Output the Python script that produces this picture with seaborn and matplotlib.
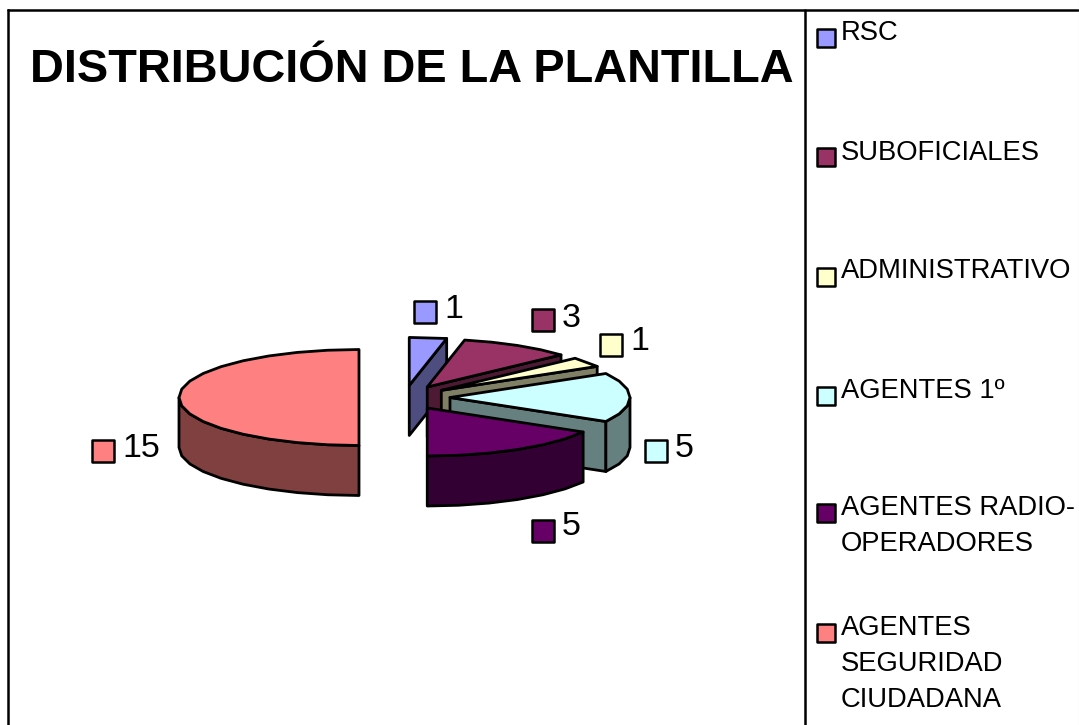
import numpy as np
import pandas as pd
import seaborn as sns
import matplotlib.pyplot as plt

categories = ['RSC', 'SUBOFICIALES', 'ADMINISTRATIVO', 'AGENTES 1º',
              'AGENTES RADIO-\nOPERADORES', 'AGENTES\nSEGURIDAD\nCIUDADANA']
values = [1, 3, 1, 5, 5, 15]
colors = ['#9999FF', '#993366', '#FFFFCC', '#CCFFFF', '#660066', '#FF8080']

# layout, in pixels of the 1079x725 picture
label_x = [425, 543, 611, 656, 543, 103]
label_y = [312, 320, 345, 451, 531, 451]
label_base = [318, 327, 350, 457, 535, 457]
legend_y = [38, 157, 277, 396, 513, 633]
legend_base = [40, 160, 278, 398, 551, 707]
cx, cy = 404.5, 397.5
rx, ry = 180, 48
explode = 45.5
depth = 50

sns.set_theme(style='white')
plt.rcParams['font.family'] = ['Liberation Sans', 'DejaVu Sans']

fig = plt.figure(figsize=(10.79, 7.25), dpi=100)
ax = fig.add_axes([0, 0, 1, 1])
ax.set_xlim(0, 1079)
ax.set_ylim(725, 0)
ax.axis('off')

palette = sns.color_palette(colors)
dark = [tuple(c * 0.5 for c in col) for col in palette]


def rim(x0, y0, a0, a1):
    # angles in degrees, clockwise from the top of the ellipse
    n = max(int(round((a1 - a0) / 10)), 1)
    t = np.radians(np.linspace(a0, a1, n + 1))
    return x0 + rx * np.sin(t), y0 - ry * np.cos(t)


def face(xs, ys, col, z):
    ax.fill(xs, ys, facecolor=col, edgecolor='black', linewidth=2,
            joinstyle='round', zorder=z)


ends = np.cumsum(values) / sum(values) * 360
starts = np.r_[0, ends[:-1]]
# the big slice does not touch the others, the radio slice has to cover the 1º one
for i in range(len(values)):
    a0, a1 = starts[i], ends[i]
    mid = np.radians((a0 + a1) / 2)
    x0 = cx + explode * np.sin(mid)
    y0 = cy - explode * ry / rx * np.cos(mid)
    z = 2 + i
    # cut face on the clockwise end
    if 0 < a1 < 180:
        ex, ey = rim(x0, y0, a1, a1)
        face([x0, ex[0], ex[0], x0], [y0, ey[0], ey[0] + depth, y0 + depth], dark[i], z)
    # outer wall, only the part that looks to the front
    v0, v1 = max(a0, 90), min(a1, 270)
    if v1 > v0:
        wx, wy = rim(x0, y0, v0, v1)
        face(np.r_[wx, wx[::-1]], np.r_[wy, wy[::-1] + depth], dark[i], z)
    tx, ty = rim(x0, y0, a0, a1)
    face(np.r_[x0, tx], np.r_[y0, ty], palette[i], z)

# value labels
df_labels = pd.DataFrame({'x': label_x, 'y': label_y, 'cat': categories})
sns.scatterplot(data=df_labels, x='x', y='y', hue='cat', palette=colors, marker='s',
                s=265, edgecolor='black', linewidth=1.8, legend=False, zorder=10, ax=ax)
for x, y, v in zip(label_x, label_base, values):
    ax.text(x + 19, y, str(v), fontsize=24.5, color='black', va='baseline', ha='left', zorder=11)

# legend column
df_legend = pd.DataFrame({'x': [826] * len(categories), 'y': legend_y, 'cat': categories})
sns.scatterplot(data=df_legend, x='x', y='y', hue='cat', palette=colors, marker='s',
                s=175, edgecolor='black', linewidth=1.8, legend=False, zorder=10, ax=ax)
for y, name in zip(legend_base, categories):
    ax.text(841, y, name, fontsize=19.7, color='black', va='baseline', ha='left',
            linespacing=1.49, zorder=11)

ax.set_xlabel('')
ax.set_ylabel('')

ax.text(30, 82, 'DISTRIBUCIÓN DE LA PLANTILLA', fontsize=33.75, fontweight='bold',
        color='black', ha='left', va='baseline')

# frame of the chart and of the legend, cut by the picture on the bottom and right
ax.plot([7.5, 7.5], [725, 10], color='black', lw=1.8, solid_capstyle='projecting', zorder=12)
ax.plot([7.5, 1078], [10, 10], color='black', lw=1.8, zorder=12)
ax.plot([805, 805], [10, 725], color='black', lw=1.8, zorder=12)
ax.plot([1078.5, 1078.5], [0, 725], color='#dddddd', lw=0.8, zorder=12)

fig.savefig('out.png', dpi=100, facecolor='white')
